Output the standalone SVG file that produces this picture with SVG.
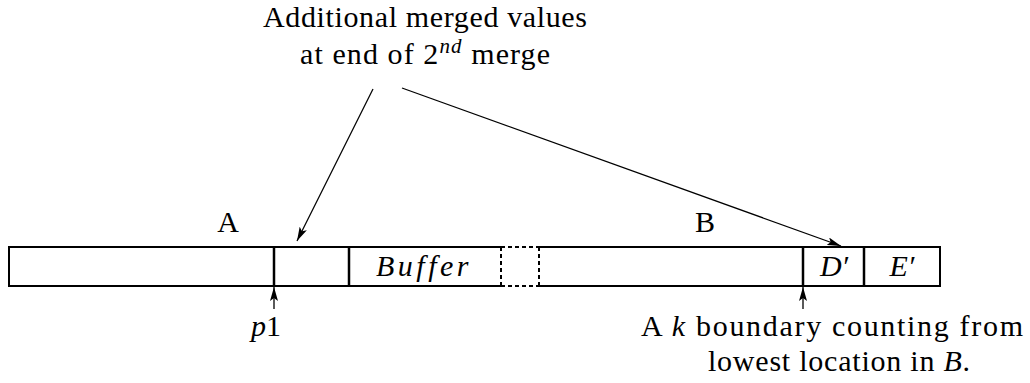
<svg xmlns="http://www.w3.org/2000/svg" width="1030" height="383" viewBox="0 0 1030 383">
<style>
text{font-family:'Liberation Serif','DejaVu Serif',serif;font-size:30px;fill:#000}
.i{font-style:italic}
.box{fill:none;stroke:#000;stroke-width:2}
.div{stroke:#000;stroke-width:2.5}
.dash{stroke:#000;stroke-width:2;stroke-dasharray:4 3;fill:none}
.con{stroke:#000;stroke-width:1.3;fill:none}
</style>
<defs>
<marker id="ah" viewBox="0 0 14 8" refX="14" refY="4" markerWidth="14" markerHeight="8" markerUnits="userSpaceOnUse" orient="auto">
<path d="M0,0 L14,4 L0,8 L3,4 Z" fill="#000"/>
</marker>
</defs>
<rect width="1030" height="383" fill="#fff"/>
<g id="title">
<text x="425" y="27" text-anchor="middle" textLength="324">Additional merged values</text>
<text x="300" y="64" textLength="250">at end of 2<tspan class="i" font-size="21" dy="-11">nd</tspan><tspan dy="11"> merge</tspan></text>
</g>
<g id="arrayA">
<path class="box" d="M501,247 H9 V286 H501"/>
<line class="div" x1="274" y1="247" x2="274" y2="286"/>
<line class="div" x1="349" y1="247" x2="349" y2="286"/>
<line class="dash" x1="501" y1="247" x2="501" y2="286"/>
<text x="228" y="232" text-anchor="middle">A</text>
<text class="i" x="424" y="276" text-anchor="middle" letter-spacing="3.5">Buffer</text>
</g>
<g id="gap">
<line class="dash" x1="501" y1="247" x2="539" y2="247"/>
<line class="dash" x1="501" y1="286" x2="539" y2="286"/>
</g>
<g id="arrayB">
<path class="box" d="M539,247 H940 V286 H539"/>
<line class="dash" x1="539" y1="247" x2="539" y2="286"/>
<line class="div" x1="803" y1="247" x2="803" y2="286"/>
<line class="div" x1="864" y1="247" x2="864" y2="286"/>
<text x="705" y="232" text-anchor="middle">B</text>
<text class="i" x="834" y="276" text-anchor="middle">D′</text>
<text class="i" x="902" y="276" text-anchor="middle">E′</text>
</g>
<g id="p1label">
<text x="266" y="336" text-anchor="middle"><tspan class="i">p</tspan>1</text>
</g>
<g id="klabel">
<text x="832" y="336" text-anchor="middle" textLength="382">A <tspan class="i">k</tspan> boundary counting from</text>
<text x="839" y="371" text-anchor="middle" textLength="262">lowest location in <tspan class="i">B</tspan>.</text>
</g>
<g id="connectors">
<line class="con" x1="373" y1="89" x2="297" y2="241" marker-end="url(#ah)"/>
<line class="con" x1="402" y1="88" x2="841" y2="246" marker-end="url(#ah)"/>
<line class="con" x1="274" y1="309" x2="274" y2="287" marker-end="url(#ah)"/>
<line class="con" x1="803" y1="309" x2="803" y2="287" marker-end="url(#ah)"/>
</g>
</svg>
